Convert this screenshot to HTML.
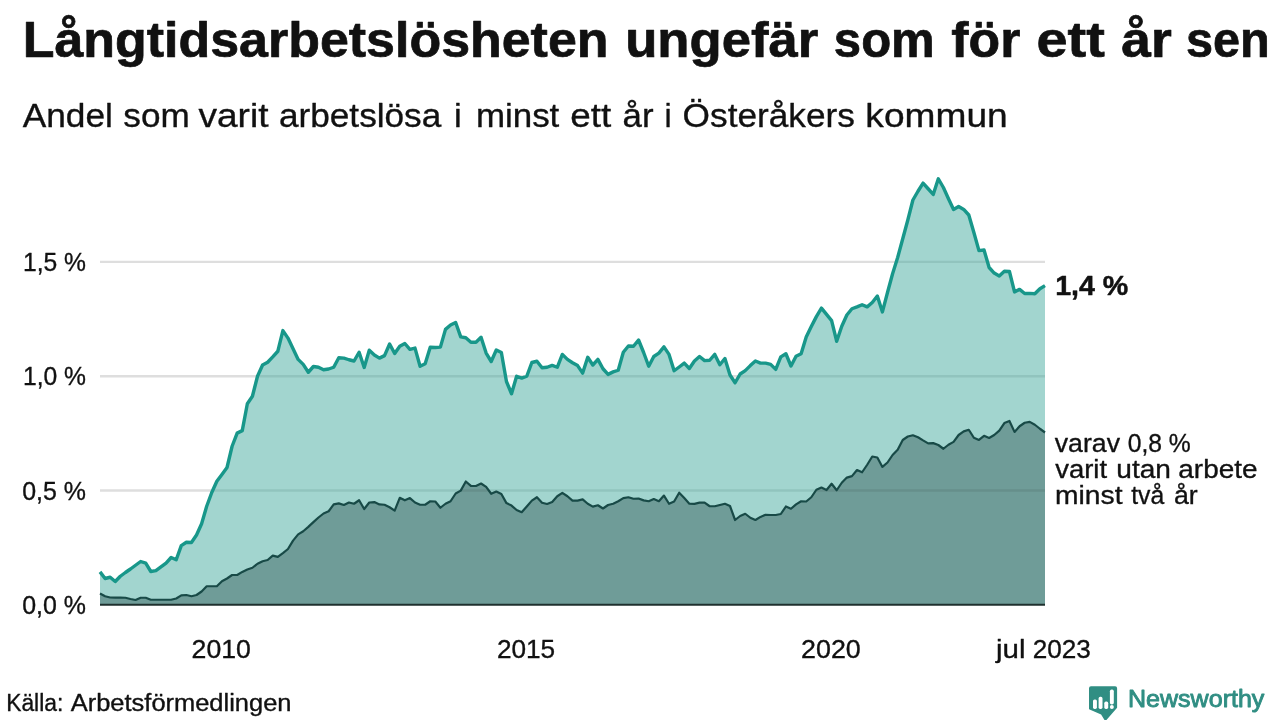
<!DOCTYPE html>
<html lang="sv">
<head>
<meta charset="utf-8">
<title>Långtidsarbetslösheten ungefär som för ett år sen</title>
<style>
html,body{margin:0;padding:0;background:#ffffff;}
body{width:1280px;height:720px;overflow:hidden;}
svg{display:block;}
text{font-family:'Liberation Sans', sans-serif;}
</style>
</head>
<body>
<svg width="1280" height="720" viewBox="0 0 1280 720">
<defs>
<clipPath id="cl"><polygon points="100.0,604.6 100.00,571.90 105.08,578.50 110.16,577.25 115.24,581.50 120.32,576.25 125.40,572.50 130.48,569.00 135.56,565.25 140.65,561.50 145.73,563.10 150.81,571.50 155.89,570.60 160.97,566.90 166.05,563.10 171.13,557.50 176.21,559.75 181.29,545.60 186.37,542.25 191.45,542.50 196.53,535.00 201.61,523.75 206.69,506.25 211.77,492.50 216.85,481.25 221.94,474.40 227.02,467.50 232.10,446.25 237.18,433.10 242.26,430.60 247.34,403.75 252.42,396.25 257.50,376.25 262.58,365.00 267.66,362.25 272.74,356.90 277.82,351.25 282.90,330.60 287.98,338.10 293.06,348.75 298.15,359.40 303.23,364.40 308.31,372.25 313.39,366.50 318.47,367.25 323.55,369.75 328.63,369.00 333.71,367.25 338.79,357.75 343.87,358.10 348.95,359.75 354.03,361.00 359.11,352.25 364.19,367.50 369.27,350.25 374.35,355.00 379.44,358.10 384.52,355.60 389.60,344.00 394.68,353.50 399.76,346.25 404.84,343.50 409.92,349.40 415.00,348.10 420.08,366.25 425.16,363.75 430.24,347.25 435.32,347.50 440.40,347.10 445.48,329.40 450.56,325.00 455.65,322.50 460.73,336.90 465.81,337.75 470.89,342.25 475.97,342.25 481.05,337.25 486.13,353.10 491.21,361.50 496.29,350.00 501.37,352.50 506.45,381.50 511.53,393.75 516.61,376.25 521.69,378.10 526.77,376.25 531.85,362.50 536.94,361.25 542.02,367.75 547.10,367.25 552.18,365.40 557.26,367.25 562.34,354.40 567.42,359.40 572.50,362.75 577.58,365.60 582.66,373.10 587.74,357.25 592.82,365.00 597.90,359.40 602.98,368.75 608.06,374.40 613.15,371.90 618.23,370.25 623.31,352.25 628.39,346.00 633.47,346.25 638.55,340.00 643.63,352.50 648.71,366.25 653.79,356.50 658.87,353.10 663.95,346.90 669.03,354.40 674.11,370.75 679.19,367.00 684.27,363.10 689.35,368.50 694.44,361.00 699.52,356.50 704.60,360.60 709.68,360.25 714.76,354.40 719.84,364.75 724.92,358.50 730.00,375.00 735.08,382.75 740.16,374.00 745.24,370.60 750.32,365.60 755.40,361.00 760.48,363.10 765.56,363.10 770.65,364.40 775.73,369.40 780.81,356.90 785.89,353.75 790.97,366.00 796.05,356.25 801.13,353.75 806.21,336.90 811.29,326.50 816.37,316.60 821.45,308.10 826.53,314.40 831.61,320.60 836.69,341.25 841.77,326.25 846.85,315.00 851.94,308.75 857.02,306.90 862.10,304.75 867.18,306.90 872.26,302.50 877.34,296.00 882.42,311.90 887.50,292.50 892.58,273.75 897.66,257.50 902.74,238.75 907.82,220.00 912.90,200.00 917.98,191.25 923.06,183.10 928.15,188.75 933.23,194.40 938.31,178.75 943.39,187.50 948.47,198.75 953.55,209.40 958.63,206.50 963.71,209.40 968.79,215.00 973.87,232.50 978.95,250.60 984.03,250.00 989.11,267.50 994.19,273.10 999.27,276.00 1004.35,271.25 1009.44,271.50 1014.52,291.90 1019.60,289.40 1024.68,293.50 1029.76,293.40 1034.84,293.75 1039.92,288.75 1045.00,285.60 1045.0,604.6"/></clipPath>
<clipPath id="cd"><polygon points="100.0,604.6 100.00,593.50 105.08,596.25 110.16,597.50 115.24,597.60 120.32,597.60 125.40,597.75 130.48,599.00 135.56,600.00 140.65,597.75 145.73,597.75 150.81,599.75 155.89,599.75 160.97,599.75 166.05,599.75 171.13,599.75 176.21,598.50 181.29,595.40 186.37,595.00 191.45,596.25 196.53,595.00 201.61,591.50 206.69,586.25 211.77,586.25 216.85,586.25 221.94,581.25 227.02,578.50 232.10,575.00 237.18,575.00 242.26,571.90 247.34,569.50 252.42,567.75 257.50,563.75 262.58,561.25 267.66,560.00 272.74,555.60 277.82,556.90 282.90,553.10 287.98,549.00 293.06,540.60 298.15,534.40 303.23,531.25 308.31,526.90 313.39,522.10 318.47,517.50 323.55,513.50 328.63,511.25 333.71,504.40 338.79,503.40 343.87,505.00 348.95,502.50 354.03,503.75 359.11,500.25 364.19,509.00 369.27,502.50 374.35,502.10 379.44,504.40 384.52,504.75 389.60,507.25 394.68,510.60 399.76,497.80 404.84,500.30 409.92,498.10 415.00,502.50 420.08,504.75 425.16,504.75 430.24,501.25 435.32,501.50 440.40,507.75 445.48,503.75 450.56,501.25 455.65,493.50 460.73,490.60 465.81,481.50 470.89,485.90 475.97,486.00 481.05,483.50 486.13,486.90 491.21,493.75 496.29,491.50 501.37,494.00 506.45,503.10 511.53,505.60 516.61,510.00 521.69,512.25 526.77,506.50 531.85,500.60 536.94,497.25 542.02,502.75 547.10,504.00 552.18,501.90 557.26,496.25 562.34,492.90 567.42,496.25 572.50,500.60 577.58,500.60 582.66,499.40 587.74,503.75 592.82,506.60 597.90,505.25 602.98,508.50 608.06,505.00 613.15,503.75 618.23,501.25 623.31,498.10 628.39,497.25 633.47,498.75 638.55,498.50 643.63,500.40 648.71,501.25 653.79,499.00 658.87,501.25 663.95,495.60 669.03,503.75 674.11,501.50 679.19,492.75 684.27,498.10 689.35,503.75 694.44,503.90 699.52,502.60 704.60,502.70 709.68,506.25 714.76,506.25 719.84,505.00 724.92,503.75 730.00,506.00 735.08,520.00 740.16,516.00 745.24,513.75 750.32,517.75 755.40,520.00 760.48,516.90 765.56,514.75 770.65,515.00 775.73,515.00 780.81,514.00 785.89,506.50 790.97,508.75 796.05,504.40 801.13,501.25 806.21,501.50 811.29,497.25 816.37,489.75 821.45,487.50 826.53,490.00 831.61,483.75 836.69,490.25 841.77,482.75 846.85,477.60 851.94,476.10 857.02,470.00 862.10,472.25 867.18,464.75 872.26,456.50 877.34,457.50 882.42,466.90 887.50,462.50 892.58,455.00 897.66,449.75 902.74,440.00 907.82,436.50 912.90,435.25 917.98,437.25 923.06,440.40 928.15,443.40 933.23,443.10 938.31,445.00 943.39,448.75 948.47,444.75 953.55,441.90 958.63,435.00 963.71,431.40 968.79,429.75 973.87,437.75 978.95,439.90 984.03,435.80 989.11,438.00 994.19,435.00 999.27,430.60 1004.35,423.10 1009.44,421.00 1014.52,431.90 1019.60,426.25 1024.68,422.75 1029.76,421.90 1034.84,424.75 1039.92,428.75 1045.00,432.50 1045.0,604.6"/></clipPath>
<clipPath id="plot"><rect x="100.0" y="150" width="945.0" height="456.6"/></clipPath>
</defs>
<rect x="0" y="0" width="1280" height="720" fill="#ffffff"/>
<g id="title">
<text x="22.73" y="57.3" font-size="50" font-weight="bold" fill="#111111" stroke="#111111" stroke-width="0.7" stroke-linejoin="round" textLength="585.81" lengthAdjust="spacingAndGlyphs">Långtidsarbetslösheten</text>
<text x="625.19" y="57.3" font-size="50" font-weight="bold" fill="#111111" stroke="#111111" stroke-width="0.7" stroke-linejoin="round" textLength="193.19" lengthAdjust="spacingAndGlyphs">ungefär</text>
<text x="833.87" y="57.3" font-size="50" font-weight="bold" fill="#111111" stroke="#111111" stroke-width="0.7" stroke-linejoin="round" textLength="100.89" lengthAdjust="spacingAndGlyphs">som</text>
<text x="951.35" y="57.3" font-size="50" font-weight="bold" fill="#111111" stroke="#111111" stroke-width="0.7" stroke-linejoin="round" textLength="68.97" lengthAdjust="spacingAndGlyphs">för</text>
<text x="1036.43" y="57.3" font-size="50" font-weight="bold" fill="#111111" stroke="#111111" stroke-width="0.7" stroke-linejoin="round" textLength="68.33" lengthAdjust="spacingAndGlyphs">ett</text>
<text x="1121.28" y="57.3" font-size="50" font-weight="bold" fill="#111111" stroke="#111111" stroke-width="0.7" stroke-linejoin="round" textLength="50.56" lengthAdjust="spacingAndGlyphs">år</text>
<text x="1185.88" y="57.3" font-size="50" font-weight="bold" fill="#111111" stroke="#111111" stroke-width="0.7" stroke-linejoin="round" textLength="83.85" lengthAdjust="spacingAndGlyphs">sen</text>
</g>
<g id="subtitle">
<text x="22.68" y="127.3" font-size="33.6" font-weight="normal" fill="#111111" stroke="#111111" stroke-width="0.35" stroke-linejoin="round" textLength="90.28" lengthAdjust="spacingAndGlyphs">Andel</text>
<text x="123.38" y="127.3" font-size="33.6" font-weight="normal" fill="#111111" stroke="#111111" stroke-width="0.35" stroke-linejoin="round" textLength="66.41" lengthAdjust="spacingAndGlyphs">som</text>
<text x="198.48" y="127.3" font-size="33.6" font-weight="normal" fill="#111111" stroke="#111111" stroke-width="0.35" stroke-linejoin="round" textLength="70.01" lengthAdjust="spacingAndGlyphs">varit</text>
<text x="278.93" y="127.3" font-size="33.6" font-weight="normal" fill="#111111" stroke="#111111" stroke-width="0.35" stroke-linejoin="round" textLength="162.36" lengthAdjust="spacingAndGlyphs">arbetslösa</text>
<text x="454.0" y="127.3" font-size="33.6" font-weight="normal" fill="#111111" stroke="#111111" stroke-width="0.35" stroke-linejoin="round" textLength="7.74" lengthAdjust="spacingAndGlyphs">i</text>
<text x="475.9" y="127.3" font-size="33.6" font-weight="normal" fill="#111111" stroke="#111111" stroke-width="0.35" stroke-linejoin="round" textLength="83.43" lengthAdjust="spacingAndGlyphs">minst</text>
<text x="570.28" y="127.3" font-size="33.6" font-weight="normal" fill="#111111" stroke="#111111" stroke-width="0.35" stroke-linejoin="round" textLength="41.01" lengthAdjust="spacingAndGlyphs">ett</text>
<text x="622.64" y="127.3" font-size="33.6" font-weight="normal" fill="#111111" stroke="#111111" stroke-width="0.35" stroke-linejoin="round" textLength="30.98" lengthAdjust="spacingAndGlyphs">år</text>
<text x="664.45" y="127.3" font-size="33.6" font-weight="normal" fill="#111111" stroke="#111111" stroke-width="0.35" stroke-linejoin="round" textLength="7.18" lengthAdjust="spacingAndGlyphs">i</text>
<text x="682.63" y="127.3" font-size="33.6" font-weight="normal" fill="#111111" stroke="#111111" stroke-width="0.35" stroke-linejoin="round" textLength="172.23" lengthAdjust="spacingAndGlyphs">Österåkers</text>
<text x="865.36" y="127.3" font-size="33.6" font-weight="normal" fill="#111111" stroke="#111111" stroke-width="0.35" stroke-linejoin="round" textLength="142.31" lengthAdjust="spacingAndGlyphs">kommun</text>
</g>
<g id="grid">
<line x1="100.0" y1="261.9" x2="1045.0" y2="261.9" stroke="#dedede" stroke-width="2.4"/>
<line x1="100.0" y1="376.2" x2="1045.0" y2="376.2" stroke="#dedede" stroke-width="2.4"/>
<line x1="100.0" y1="490.5" x2="1045.0" y2="490.5" stroke="#dedede" stroke-width="2.4"/>
</g>
<polygon points="100.0,604.6 100.00,571.90 105.08,578.50 110.16,577.25 115.24,581.50 120.32,576.25 125.40,572.50 130.48,569.00 135.56,565.25 140.65,561.50 145.73,563.10 150.81,571.50 155.89,570.60 160.97,566.90 166.05,563.10 171.13,557.50 176.21,559.75 181.29,545.60 186.37,542.25 191.45,542.50 196.53,535.00 201.61,523.75 206.69,506.25 211.77,492.50 216.85,481.25 221.94,474.40 227.02,467.50 232.10,446.25 237.18,433.10 242.26,430.60 247.34,403.75 252.42,396.25 257.50,376.25 262.58,365.00 267.66,362.25 272.74,356.90 277.82,351.25 282.90,330.60 287.98,338.10 293.06,348.75 298.15,359.40 303.23,364.40 308.31,372.25 313.39,366.50 318.47,367.25 323.55,369.75 328.63,369.00 333.71,367.25 338.79,357.75 343.87,358.10 348.95,359.75 354.03,361.00 359.11,352.25 364.19,367.50 369.27,350.25 374.35,355.00 379.44,358.10 384.52,355.60 389.60,344.00 394.68,353.50 399.76,346.25 404.84,343.50 409.92,349.40 415.00,348.10 420.08,366.25 425.16,363.75 430.24,347.25 435.32,347.50 440.40,347.10 445.48,329.40 450.56,325.00 455.65,322.50 460.73,336.90 465.81,337.75 470.89,342.25 475.97,342.25 481.05,337.25 486.13,353.10 491.21,361.50 496.29,350.00 501.37,352.50 506.45,381.50 511.53,393.75 516.61,376.25 521.69,378.10 526.77,376.25 531.85,362.50 536.94,361.25 542.02,367.75 547.10,367.25 552.18,365.40 557.26,367.25 562.34,354.40 567.42,359.40 572.50,362.75 577.58,365.60 582.66,373.10 587.74,357.25 592.82,365.00 597.90,359.40 602.98,368.75 608.06,374.40 613.15,371.90 618.23,370.25 623.31,352.25 628.39,346.00 633.47,346.25 638.55,340.00 643.63,352.50 648.71,366.25 653.79,356.50 658.87,353.10 663.95,346.90 669.03,354.40 674.11,370.75 679.19,367.00 684.27,363.10 689.35,368.50 694.44,361.00 699.52,356.50 704.60,360.60 709.68,360.25 714.76,354.40 719.84,364.75 724.92,358.50 730.00,375.00 735.08,382.75 740.16,374.00 745.24,370.60 750.32,365.60 755.40,361.00 760.48,363.10 765.56,363.10 770.65,364.40 775.73,369.40 780.81,356.90 785.89,353.75 790.97,366.00 796.05,356.25 801.13,353.75 806.21,336.90 811.29,326.50 816.37,316.60 821.45,308.10 826.53,314.40 831.61,320.60 836.69,341.25 841.77,326.25 846.85,315.00 851.94,308.75 857.02,306.90 862.10,304.75 867.18,306.90 872.26,302.50 877.34,296.00 882.42,311.90 887.50,292.50 892.58,273.75 897.66,257.50 902.74,238.75 907.82,220.00 912.90,200.00 917.98,191.25 923.06,183.10 928.15,188.75 933.23,194.40 938.31,178.75 943.39,187.50 948.47,198.75 953.55,209.40 958.63,206.50 963.71,209.40 968.79,215.00 973.87,232.50 978.95,250.60 984.03,250.00 989.11,267.50 994.19,273.10 999.27,276.00 1004.35,271.25 1009.44,271.50 1014.52,291.90 1019.60,289.40 1024.68,293.50 1029.76,293.40 1034.84,293.75 1039.92,288.75 1045.00,285.60 1045.0,604.6" fill="#a2d5cf"/>
<line x1="100.0" y1="261.9" x2="1045.0" y2="261.9" stroke="#91c4be" stroke-width="2.4" clip-path="url(#cl)"/>
<line x1="100.0" y1="376.2" x2="1045.0" y2="376.2" stroke="#91c4be" stroke-width="2.4" clip-path="url(#cl)"/>
<line x1="100.0" y1="490.5" x2="1045.0" y2="490.5" stroke="#91c4be" stroke-width="2.4" clip-path="url(#cl)"/>
<polygon points="100.0,604.6 100.00,593.50 105.08,596.25 110.16,597.50 115.24,597.60 120.32,597.60 125.40,597.75 130.48,599.00 135.56,600.00 140.65,597.75 145.73,597.75 150.81,599.75 155.89,599.75 160.97,599.75 166.05,599.75 171.13,599.75 176.21,598.50 181.29,595.40 186.37,595.00 191.45,596.25 196.53,595.00 201.61,591.50 206.69,586.25 211.77,586.25 216.85,586.25 221.94,581.25 227.02,578.50 232.10,575.00 237.18,575.00 242.26,571.90 247.34,569.50 252.42,567.75 257.50,563.75 262.58,561.25 267.66,560.00 272.74,555.60 277.82,556.90 282.90,553.10 287.98,549.00 293.06,540.60 298.15,534.40 303.23,531.25 308.31,526.90 313.39,522.10 318.47,517.50 323.55,513.50 328.63,511.25 333.71,504.40 338.79,503.40 343.87,505.00 348.95,502.50 354.03,503.75 359.11,500.25 364.19,509.00 369.27,502.50 374.35,502.10 379.44,504.40 384.52,504.75 389.60,507.25 394.68,510.60 399.76,497.80 404.84,500.30 409.92,498.10 415.00,502.50 420.08,504.75 425.16,504.75 430.24,501.25 435.32,501.50 440.40,507.75 445.48,503.75 450.56,501.25 455.65,493.50 460.73,490.60 465.81,481.50 470.89,485.90 475.97,486.00 481.05,483.50 486.13,486.90 491.21,493.75 496.29,491.50 501.37,494.00 506.45,503.10 511.53,505.60 516.61,510.00 521.69,512.25 526.77,506.50 531.85,500.60 536.94,497.25 542.02,502.75 547.10,504.00 552.18,501.90 557.26,496.25 562.34,492.90 567.42,496.25 572.50,500.60 577.58,500.60 582.66,499.40 587.74,503.75 592.82,506.60 597.90,505.25 602.98,508.50 608.06,505.00 613.15,503.75 618.23,501.25 623.31,498.10 628.39,497.25 633.47,498.75 638.55,498.50 643.63,500.40 648.71,501.25 653.79,499.00 658.87,501.25 663.95,495.60 669.03,503.75 674.11,501.50 679.19,492.75 684.27,498.10 689.35,503.75 694.44,503.90 699.52,502.60 704.60,502.70 709.68,506.25 714.76,506.25 719.84,505.00 724.92,503.75 730.00,506.00 735.08,520.00 740.16,516.00 745.24,513.75 750.32,517.75 755.40,520.00 760.48,516.90 765.56,514.75 770.65,515.00 775.73,515.00 780.81,514.00 785.89,506.50 790.97,508.75 796.05,504.40 801.13,501.25 806.21,501.50 811.29,497.25 816.37,489.75 821.45,487.50 826.53,490.00 831.61,483.75 836.69,490.25 841.77,482.75 846.85,477.60 851.94,476.10 857.02,470.00 862.10,472.25 867.18,464.75 872.26,456.50 877.34,457.50 882.42,466.90 887.50,462.50 892.58,455.00 897.66,449.75 902.74,440.00 907.82,436.50 912.90,435.25 917.98,437.25 923.06,440.40 928.15,443.40 933.23,443.10 938.31,445.00 943.39,448.75 948.47,444.75 953.55,441.90 958.63,435.00 963.71,431.40 968.79,429.75 973.87,437.75 978.95,439.90 984.03,435.80 989.11,438.00 994.19,435.00 999.27,430.60 1004.35,423.10 1009.44,421.00 1014.52,431.90 1019.60,426.25 1024.68,422.75 1029.76,421.90 1034.84,424.75 1039.92,428.75 1045.00,432.50 1045.0,604.6" fill="#6f9c98"/>
<line x1="100.0" y1="490.5" x2="1045.0" y2="490.5" stroke="#668f8b" stroke-width="2.4" clip-path="url(#cd)"/>
<g id="lines">
<polyline points="100.00,571.90 105.08,578.50 110.16,577.25 115.24,581.50 120.32,576.25 125.40,572.50 130.48,569.00 135.56,565.25 140.65,561.50 145.73,563.10 150.81,571.50 155.89,570.60 160.97,566.90 166.05,563.10 171.13,557.50 176.21,559.75 181.29,545.60 186.37,542.25 191.45,542.50 196.53,535.00 201.61,523.75 206.69,506.25 211.77,492.50 216.85,481.25 221.94,474.40 227.02,467.50 232.10,446.25 237.18,433.10 242.26,430.60 247.34,403.75 252.42,396.25 257.50,376.25 262.58,365.00 267.66,362.25 272.74,356.90 277.82,351.25 282.90,330.60 287.98,338.10 293.06,348.75 298.15,359.40 303.23,364.40 308.31,372.25 313.39,366.50 318.47,367.25 323.55,369.75 328.63,369.00 333.71,367.25 338.79,357.75 343.87,358.10 348.95,359.75 354.03,361.00 359.11,352.25 364.19,367.50 369.27,350.25 374.35,355.00 379.44,358.10 384.52,355.60 389.60,344.00 394.68,353.50 399.76,346.25 404.84,343.50 409.92,349.40 415.00,348.10 420.08,366.25 425.16,363.75 430.24,347.25 435.32,347.50 440.40,347.10 445.48,329.40 450.56,325.00 455.65,322.50 460.73,336.90 465.81,337.75 470.89,342.25 475.97,342.25 481.05,337.25 486.13,353.10 491.21,361.50 496.29,350.00 501.37,352.50 506.45,381.50 511.53,393.75 516.61,376.25 521.69,378.10 526.77,376.25 531.85,362.50 536.94,361.25 542.02,367.75 547.10,367.25 552.18,365.40 557.26,367.25 562.34,354.40 567.42,359.40 572.50,362.75 577.58,365.60 582.66,373.10 587.74,357.25 592.82,365.00 597.90,359.40 602.98,368.75 608.06,374.40 613.15,371.90 618.23,370.25 623.31,352.25 628.39,346.00 633.47,346.25 638.55,340.00 643.63,352.50 648.71,366.25 653.79,356.50 658.87,353.10 663.95,346.90 669.03,354.40 674.11,370.75 679.19,367.00 684.27,363.10 689.35,368.50 694.44,361.00 699.52,356.50 704.60,360.60 709.68,360.25 714.76,354.40 719.84,364.75 724.92,358.50 730.00,375.00 735.08,382.75 740.16,374.00 745.24,370.60 750.32,365.60 755.40,361.00 760.48,363.10 765.56,363.10 770.65,364.40 775.73,369.40 780.81,356.90 785.89,353.75 790.97,366.00 796.05,356.25 801.13,353.75 806.21,336.90 811.29,326.50 816.37,316.60 821.45,308.10 826.53,314.40 831.61,320.60 836.69,341.25 841.77,326.25 846.85,315.00 851.94,308.75 857.02,306.90 862.10,304.75 867.18,306.90 872.26,302.50 877.34,296.00 882.42,311.90 887.50,292.50 892.58,273.75 897.66,257.50 902.74,238.75 907.82,220.00 912.90,200.00 917.98,191.25 923.06,183.10 928.15,188.75 933.23,194.40 938.31,178.75 943.39,187.50 948.47,198.75 953.55,209.40 958.63,206.50 963.71,209.40 968.79,215.00 973.87,232.50 978.95,250.60 984.03,250.00 989.11,267.50 994.19,273.10 999.27,276.00 1004.35,271.25 1009.44,271.50 1014.52,291.90 1019.60,289.40 1024.68,293.50 1029.76,293.40 1034.84,293.75 1039.92,288.75 1045.00,285.60" fill="none" stroke="#18978a" stroke-width="3.4" stroke-linejoin="round" stroke-linecap="butt"/>
<polyline points="100.00,593.50 105.08,596.25 110.16,597.50 115.24,597.60 120.32,597.60 125.40,597.75 130.48,599.00 135.56,600.00 140.65,597.75 145.73,597.75 150.81,599.75 155.89,599.75 160.97,599.75 166.05,599.75 171.13,599.75 176.21,598.50 181.29,595.40 186.37,595.00 191.45,596.25 196.53,595.00 201.61,591.50 206.69,586.25 211.77,586.25 216.85,586.25 221.94,581.25 227.02,578.50 232.10,575.00 237.18,575.00 242.26,571.90 247.34,569.50 252.42,567.75 257.50,563.75 262.58,561.25 267.66,560.00 272.74,555.60 277.82,556.90 282.90,553.10 287.98,549.00 293.06,540.60 298.15,534.40 303.23,531.25 308.31,526.90 313.39,522.10 318.47,517.50 323.55,513.50 328.63,511.25 333.71,504.40 338.79,503.40 343.87,505.00 348.95,502.50 354.03,503.75 359.11,500.25 364.19,509.00 369.27,502.50 374.35,502.10 379.44,504.40 384.52,504.75 389.60,507.25 394.68,510.60 399.76,497.80 404.84,500.30 409.92,498.10 415.00,502.50 420.08,504.75 425.16,504.75 430.24,501.25 435.32,501.50 440.40,507.75 445.48,503.75 450.56,501.25 455.65,493.50 460.73,490.60 465.81,481.50 470.89,485.90 475.97,486.00 481.05,483.50 486.13,486.90 491.21,493.75 496.29,491.50 501.37,494.00 506.45,503.10 511.53,505.60 516.61,510.00 521.69,512.25 526.77,506.50 531.85,500.60 536.94,497.25 542.02,502.75 547.10,504.00 552.18,501.90 557.26,496.25 562.34,492.90 567.42,496.25 572.50,500.60 577.58,500.60 582.66,499.40 587.74,503.75 592.82,506.60 597.90,505.25 602.98,508.50 608.06,505.00 613.15,503.75 618.23,501.25 623.31,498.10 628.39,497.25 633.47,498.75 638.55,498.50 643.63,500.40 648.71,501.25 653.79,499.00 658.87,501.25 663.95,495.60 669.03,503.75 674.11,501.50 679.19,492.75 684.27,498.10 689.35,503.75 694.44,503.90 699.52,502.60 704.60,502.70 709.68,506.25 714.76,506.25 719.84,505.00 724.92,503.75 730.00,506.00 735.08,520.00 740.16,516.00 745.24,513.75 750.32,517.75 755.40,520.00 760.48,516.90 765.56,514.75 770.65,515.00 775.73,515.00 780.81,514.00 785.89,506.50 790.97,508.75 796.05,504.40 801.13,501.25 806.21,501.50 811.29,497.25 816.37,489.75 821.45,487.50 826.53,490.00 831.61,483.75 836.69,490.25 841.77,482.75 846.85,477.60 851.94,476.10 857.02,470.00 862.10,472.25 867.18,464.75 872.26,456.50 877.34,457.50 882.42,466.90 887.50,462.50 892.58,455.00 897.66,449.75 902.74,440.00 907.82,436.50 912.90,435.25 917.98,437.25 923.06,440.40 928.15,443.40 933.23,443.10 938.31,445.00 943.39,448.75 948.47,444.75 953.55,441.90 958.63,435.00 963.71,431.40 968.79,429.75 973.87,437.75 978.95,439.90 984.03,435.80 989.11,438.00 994.19,435.00 999.27,430.60 1004.35,423.10 1009.44,421.00 1014.52,431.90 1019.60,426.25 1024.68,422.75 1029.76,421.90 1034.84,424.75 1039.92,428.75 1045.00,432.50" fill="none" stroke="#184a47" stroke-width="2.2" stroke-linejoin="round" stroke-linecap="butt"/>
</g>
<line x1="100.0" y1="604.85" x2="1045.0" y2="604.85" stroke="#1f302e" stroke-width="2"/>
<g id="ylabels">
<text x="22.97" y="271.0" font-size="25.8" font-weight="normal" fill="#111111" stroke="#111111" stroke-width="0.35" stroke-linejoin="round" textLength="63.05" lengthAdjust="spacingAndGlyphs">1,5 %</text>
<text x="22.97" y="385.3" font-size="25.8" font-weight="normal" fill="#111111" stroke="#111111" stroke-width="0.35" stroke-linejoin="round" textLength="63.05" lengthAdjust="spacingAndGlyphs">1,0 %</text>
<text x="22.21" y="499.6" font-size="25.8" font-weight="normal" fill="#111111" stroke="#111111" stroke-width="0.35" stroke-linejoin="round" textLength="63.81" lengthAdjust="spacingAndGlyphs">0,5 %</text>
<text x="22.21" y="613.9" font-size="25.8" font-weight="normal" fill="#111111" stroke="#111111" stroke-width="0.35" stroke-linejoin="round" textLength="63.81" lengthAdjust="spacingAndGlyphs">0,0 %</text>
</g>
<g id="xlabels">
<text x="191.64" y="657.6" font-size="25.8" font-weight="normal" fill="#111111" stroke="#111111" stroke-width="0.35" stroke-linejoin="round" textLength="59.29" lengthAdjust="spacingAndGlyphs">2010</text>
<text x="496.96" y="657.6" font-size="25.8" font-weight="normal" fill="#111111" stroke="#111111" stroke-width="0.35" stroke-linejoin="round" textLength="58.22" lengthAdjust="spacingAndGlyphs">2015</text>
<text x="801.03" y="657.6" font-size="25.8" font-weight="normal" fill="#111111" stroke="#111111" stroke-width="0.35" stroke-linejoin="round" textLength="59.75" lengthAdjust="spacingAndGlyphs">2020</text>
<text x="996.07" y="657.6" font-size="25.8" font-weight="normal" fill="#111111" stroke="#111111" stroke-width="0.35" stroke-linejoin="round" textLength="29.49" lengthAdjust="spacingAndGlyphs">jul</text>
<text x="1032.66" y="657.6" font-size="25.8" font-weight="normal" fill="#111111" stroke="#111111" stroke-width="0.35" stroke-linejoin="round" textLength="58.11" lengthAdjust="spacingAndGlyphs">2023</text>
</g>
<g id="annotations">
<text x="1055.15" y="295.4" font-size="28.5" font-weight="bold" fill="#111111" stroke="#111111" stroke-width="0.5" stroke-linejoin="round" textLength="73.15" lengthAdjust="spacingAndGlyphs">1,4 %</text>
<text x="1054.77" y="451.5" font-size="25.8" font-weight="normal" fill="#111111" stroke="#111111" stroke-width="0.35" stroke-linejoin="round" textLength="65.24" lengthAdjust="spacingAndGlyphs">varav</text>
<text x="1127.72" y="451.5" font-size="25.8" font-weight="normal" fill="#111111" stroke="#111111" stroke-width="0.35" stroke-linejoin="round" textLength="63.05" lengthAdjust="spacingAndGlyphs">0,8 %</text>
<text x="1055.17" y="477.7" font-size="25.8" font-weight="normal" fill="#111111" stroke="#111111" stroke-width="0.35" stroke-linejoin="round" textLength="51.93" lengthAdjust="spacingAndGlyphs">varit</text>
<text x="1116.34" y="477.7" font-size="25.8" font-weight="normal" fill="#111111" stroke="#111111" stroke-width="0.35" stroke-linejoin="round" textLength="54.65" lengthAdjust="spacingAndGlyphs">utan</text>
<text x="1178.34" y="477.7" font-size="25.8" font-weight="normal" fill="#111111" stroke="#111111" stroke-width="0.35" stroke-linejoin="round" textLength="79.16" lengthAdjust="spacingAndGlyphs">arbete</text>
<text x="1055.08" y="503.8" font-size="25.8" font-weight="normal" fill="#111111" stroke="#111111" stroke-width="0.35" stroke-linejoin="round" textLength="67.43" lengthAdjust="spacingAndGlyphs">minst</text>
<text x="1131.17" y="503.8" font-size="25.8" font-weight="normal" fill="#111111" stroke="#111111" stroke-width="0.35" stroke-linejoin="round" textLength="33.02" lengthAdjust="spacingAndGlyphs">två</text>
<text x="1173.94" y="503.8" font-size="25.8" font-weight="normal" fill="#111111" stroke="#111111" stroke-width="0.35" stroke-linejoin="round" textLength="23.76" lengthAdjust="spacingAndGlyphs">år</text>
</g>
<text x="6.18" y="710.8" font-size="23" font-weight="normal" fill="#111111" stroke="#111111" stroke-width="0.35" stroke-linejoin="round" textLength="57.12" lengthAdjust="spacingAndGlyphs">Källa:</text>
<text x="70.77" y="710.8" font-size="23" font-weight="normal" fill="#111111" stroke="#111111" stroke-width="0.35" stroke-linejoin="round" textLength="220.68" lengthAdjust="spacingAndGlyphs">Arbetsförmedlingen</text>
<g id="logo" fill="#308e83">
<path d="M1091,686.3 H1115.1 Q1117.1,686.3 1117.1,688.3 V707.8 L1106,720.5 H1104.8 L1101.1,714.6 L1089.6,709.6 Q1089,709.3 1089,708.5 V688.3 Q1089,686.3 1091,686.3 Z"/>
<g fill="#ffffff">
<rect x="1093.0" y="699.4" width="3.9" height="9.5" rx="1.6"/>
<rect x="1098.6" y="696.8" width="3.9" height="12.1" rx="1.6"/>
<rect x="1104.3" y="701.6" width="3.9" height="7.3" rx="1.6"/>
<rect x="1109.9" y="689.6" width="3.9" height="14.8" rx="1.7"/>
<rect x="1109.9" y="705.0" width="3.9" height="3.9" rx="1.9"/>
</g>
<text x="1128.01" y="707.0" font-size="24.2" font-weight="normal" fill="#308e83" stroke="#308e83" stroke-width="0.9" stroke-linejoin="round" textLength="136.4" lengthAdjust="spacingAndGlyphs">Newsworthy</text>
</g>
</svg>
</body>
</html>
